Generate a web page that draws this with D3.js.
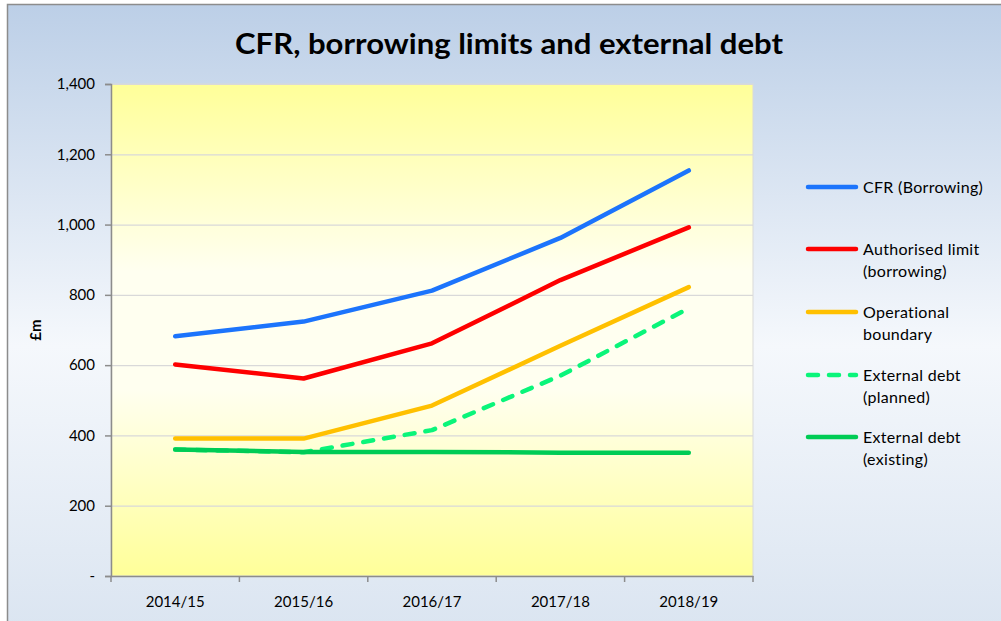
<!DOCTYPE html>
<html>
<head>
<meta charset="utf-8">
<script src="https://cdn.jsdelivr.net/npm/d3@7"></script>
<style>
  body { margin: 0; background: #fff; }
  svg { display: block; font-family: Lato, "Open Sans", sans-serif; }
</style>
</head>
<body>
<div class="chart"></div>
<script>
        // data
        var years = ["2014/15", "2015/16", "2016/17", "2017/18", "2018/19"];
        var cfr = [682, 724, 812, 962, 1154];
        var authorised = [602, 562, 662, 842, 992];
        var operational = [391, 391, 485, 655, 822];
        var plannedDebt = [360, 352, 415, 570, 762];
        var existingDebt = [360, 353, 353, 351, 351];
        var yTicks = [0, 200, 400, 600, 800, 1000, 1200, 1400];

        var series = [
            { name: ["CFR (Borrowing)"], values: cfr, color: "#1c74fc", dash: null },
            { name: ["Authorised limit", "(borrowing)"], values: authorised, color: "#fe0000", dash: null },
            { name: ["Operational", "boundary"], values: operational, color: "#ffc000", dash: null },
            { name: ["External debt", "(planned)"], values: plannedDebt, color: "#0af57a", dash: "10,11" },
            { name: ["External debt", "(existing)"], values: existingDebt, color: "#00cc55", dash: null }
        ];

        var W = 1001, H = 621;
        var plotL = 111, plotR = 753, plotT = 84, plotB = 576;

        var svg = d3.select(".chart")
            .append("svg")
            .attr("width", W)
            .attr("height", H)

        var defs = svg.append("defs");
        var bg = defs.append("linearGradient").attr("id", "bg").attr("x1", 0).attr("y1", 0).attr("x2", 0).attr("y2", 1);
        bg.append("stop").attr("offset", "0%").attr("stop-color", "#bccfe7");
        bg.append("stop").attr("offset", "55%").attr("stop-color", "#f5f8fc");
        bg.append("stop").attr("offset", "100%").attr("stop-color", "#dbe5f1");
        var plotBg = defs.append("linearGradient").attr("id", "plotbg").attr("x1", 0).attr("y1", 0).attr("x2", 0).attr("y2", 1);
        plotBg.append("stop").attr("offset", "0%").attr("stop-color", "#ffff99");
        plotBg.append("stop").attr("offset", "38%").attr("stop-color", "#fffff0");
        plotBg.append("stop").attr("offset", "62%").attr("stop-color", "#fffff0");
        plotBg.append("stop").attr("offset", "100%").attr("stop-color", "#ffff99");

        // chart background + frame
        svg.append("rect")
            .attr("x", 7.5).attr("y", 4.5)
            .attr("width", W).attr("height", H)
            .attr("fill", "url(#bg)")
            .attr("stroke", "#8c8c8c")
            .attr("stroke-width", 1.5)

        // plot area
        svg.append("rect")
            .attr("x", plotL).attr("y", plotT)
            .attr("width", plotR - plotL).attr("height", plotB - plotT)
            .attr("fill", "url(#plotbg)")
            .attr("stroke", "#d9d9d9")

        // scales
        var x = d3.scalePoint()
            .domain(years)
            .range([plotL, plotR])
            .padding(0.5);
        var xBand = d3.scaleBand()
            .domain(years)
            .range([plotL, plotR]);
        var y = d3.scaleLinear()
            .domain([0, 1400])
            .range([plotB, plotT]);

        // gridlines
        svg.append("g")
            .selectAll("line")
            .data(yTicks.slice(1))
            .join("line")
            .attr("x1", plotL).attr("x2", plotR)
            .attr("y1", function (d) { return y(d) + 0.5 })
            .attr("y2", function (d) { return y(d) + 0.5 })
            .attr("stroke", "#d9d9d9")
            .attr("stroke-width", 1.2)

        // y axis
        var yAxis = svg.append("g")
            .attr("transform", "translate(" + plotL + ",0)")
            .call(d3.axisLeft(y).tickValues(yTicks).tickSize(6).tickPadding(10)
                .tickFormat(function (d) { return d === 0 ? "-" : d3.format(",")(d) }));
        yAxis.selectAll("text").attr("font-size", "15px").attr("fill", "#000").attr("font-family", "Lato, sans-serif");
        yAxis.select(".domain").attr("stroke", "#8c8c8c").attr("stroke-width", 1.5);
        yAxis.selectAll(".tick line").attr("stroke", "#8c8c8c").attr("stroke-width", 1.5);

        // x axis
        var xAxis = svg.append("g")
            .attr("transform", "translate(0," + plotB + ")")
            .call(d3.axisBottom(xBand).tickSize(0).tickPadding(20));
        xAxis.selectAll("text").attr("font-size", "15px").attr("fill", "#000").attr("font-family", "Lato, sans-serif");
        xAxis.select(".domain").attr("stroke", "#8c8c8c").attr("stroke-width", 1.5);
        xAxis.selectAll("line.sep")
            .data(years.concat(["end"]))
            .join("line")
            .attr("class", "sep")
            .attr("x1", function (d, i) { return plotL + i * xBand.bandwidth() })
            .attr("x2", function (d, i) { return plotL + i * xBand.bandwidth() })
            .attr("y1", 0).attr("y2", 6)
            .attr("stroke", "#8c8c8c")
            .attr("stroke-width", 1.5)

        // y axis title
        svg.append("text")
            .attr("transform", "translate(41," + ((plotT + plotB) / 2) + ") rotate(-90)")
            .attr("text-anchor", "middle")
            .attr("font-size", "15px")
            .attr("font-weight", "bold")
            .text("£m")

        // title
        svg.append("text")
            .attr("x", 509)
            .attr("y", 54)
            .attr("text-anchor", "middle")
            .attr("font-size", "28px")
            .attr("font-weight", "bold")
            .attr("textLength", 548)
            .attr("lengthAdjust", "spacingAndGlyphs")
            .text("CFR, borrowing limits and external debt")

        // lines
        var line = d3.line()
            .x(function (d, i) { return x(years[i]) })
            .y(function (d) { return y(d) });

        svg.append("g")
            .selectAll("path")
            .data(series)
            .join("path")
            .attr("d", function (d) { return line(d.values) })
            .attr("fill", "none")
            .attr("stroke", function (d) { return d.color })
            .attr("stroke-width", 4.5)
            .attr("stroke-linecap", "round")
            .attr("stroke-linejoin", "round")
            .attr("stroke-dasharray", function (d) { return d.dash })

        // legend
        var legendY = [187, 249, 312, 375, 437];
        var legend = svg.append("g")
            .selectAll("g")
            .data(series)
            .join("g")
            .attr("transform", function (d, i) { return "translate(808," + legendY[i] + ")" });
        legend.append("line")
            .attr("x1", 0).attr("x2", 48)
            .attr("y1", 0).attr("y2", 0)
            .attr("stroke", function (d) { return d.color })
            .attr("stroke-width", 4.5)
            .attr("stroke-linecap", "round")
            .attr("stroke-dasharray", function (d) { return d.dash })
        legend.each(function (d) {
            var t = d3.select(this).append("text")
                .attr("x", 55)
                .attr("y", 6)
                .attr("font-size", "16px")
                .attr("letter-spacing", "0.3px")
                .attr("fill", "#000");
            d.name.forEach(function (s, j) {
                t.append("tspan").attr("x", 55).attr("dy", j === 0 ? 0 : 22).text(s);
            });
        });
</script>
</body>
</html>
